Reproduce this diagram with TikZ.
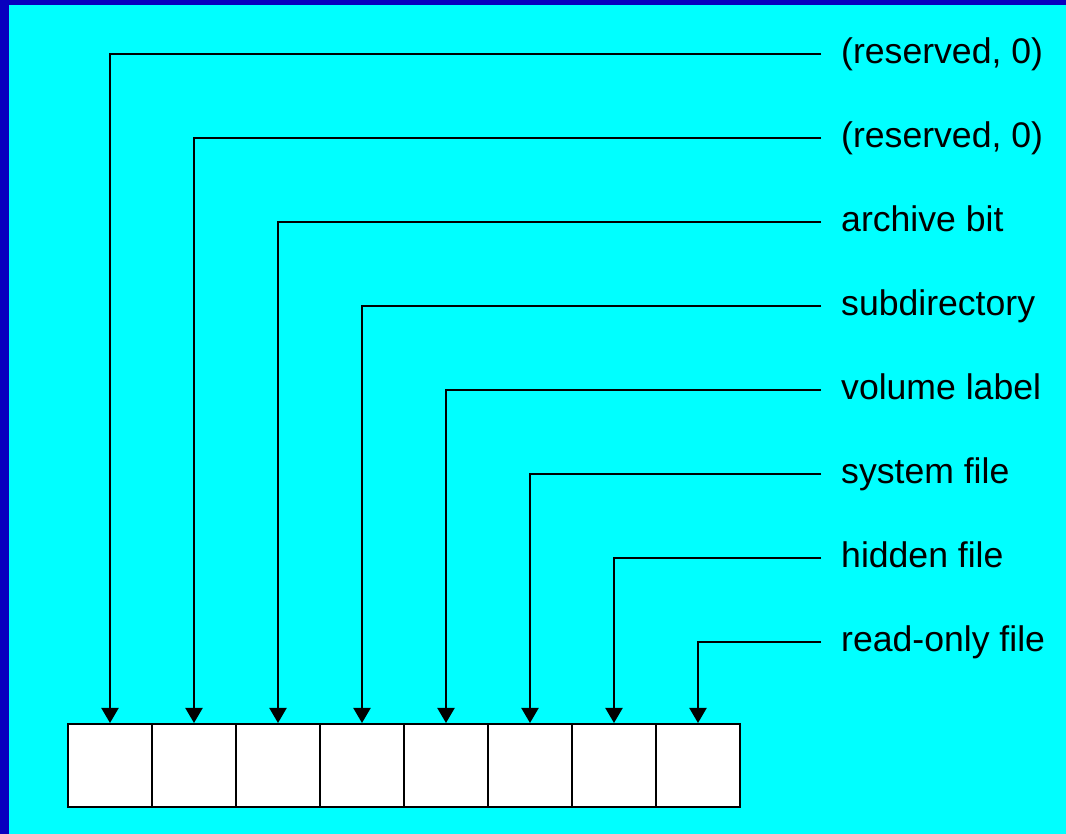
\documentclass[tikz,border=0pt]{standalone}
\usepackage{fontspec}
\setmainfont{Liberation Sans}
\usetikzlibrary{arrows.meta}
\definecolor{bgcyan}{RGB}{0,255,255}
\definecolor{edgeblue}{RGB}{8,0,190}
\begin{document}
\begin{tikzpicture}[x=1pt,y=1pt,
  bitbox/.style={draw=black,line width=2pt,fill=white,minimum width=84pt,minimum height=83pt,inner sep=0pt,anchor=north west},
  lbl/.style={anchor=west,inner xsep=20pt,inner ysep=0pt,text height=26pt,text depth=7.5pt,font=\fontsize{35.6}{40}\selectfont},
  conn/.style={line width=2pt,-{Triangle[width=17pt,length=15pt]}}]
\fill[bgcyan] (0,0) rectangle (1066,834);
\fill[edgeblue] (0,0) rectangle (9,834);
\fill[edgeblue] (0,829) rectangle (1066,834);
\useasboundingbox (0,0) rectangle (1066,834);
% bit boxes
\foreach \i in {1,...,8}{
  \node[bitbox] (b\i) at ({67+84*(\i-1)},111) {};
}
% labels
\node[lbl] (l1) at (821,780) {(reserved, 0)};
\node[lbl] (l2) at (821,696) {(reserved, 0)};
\node[lbl] (l3) at (821,612) {archive bit};
\node[lbl] (l4) at (821,528) {subdirectory};
\node[lbl] (l5) at (821,444) {volume label};
\node[lbl] (l6) at (821,360) {system file};
\node[lbl] (l7) at (821,276) {hidden file};
\node[lbl] (l8) at (821,192) {read-only file};
% connectors
\foreach \i in {1,...,8}{
  \draw[conn] (l\i.west) -| (b\i.north);
}
\end{tikzpicture}
\end{document}
